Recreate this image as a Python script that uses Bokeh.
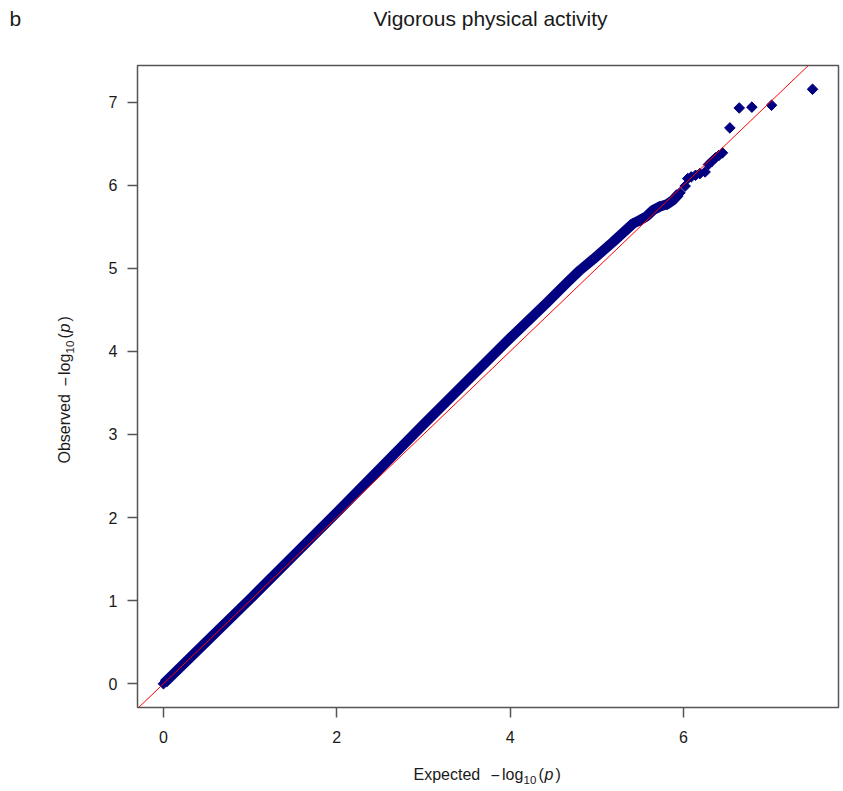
import math
from bokeh.plotting import figure
from bokeh.models import Range1d, FixedTicker, Label, Slope
from bokeh.layouts import column, row
from bokeh.embed import file_html
from bokeh.resources import INLINE

# ---- data (expected vs observed -log10 p) ----
band_expected = [0.0, 0.5, 1.0, 1.5, 2.0, 2.5, 3.0, 3.5, 4.0, 4.42, 4.65, 4.81,
                 4.96, 5.19, 5.42, 5.50, 5.58, 5.65, 5.72, 5.81, 5.88, 5.96]
band_observed = [0.0, 0.51, 1.02, 1.54, 2.06, 2.59, 3.12, 3.64, 4.16, 4.58, 4.82, 4.98,
                 5.11, 5.32, 5.54, 5.58, 5.63, 5.70, 5.74, 5.77, 5.82, 5.91]
tail_expected = [6.02, 6.05, 6.09, 6.14, 6.19, 6.25, 6.29, 6.33, 6.37, 6.41, 6.45,
                 6.536, 6.644, 6.79, 7.017, 7.49]
tail_observed = [5.99, 6.08, 6.10, 6.12, 6.14, 6.16, 6.25, 6.29, 6.33, 6.36, 6.39,
                 6.69, 6.93, 6.94, 6.963, 7.155]
x_ticks = [0, 2, 4, 6]
y_ticks = [0, 1, 2, 3, 4, 5, 6, 7]
title_text = "Vigorous physical activity"
panel_text = "b"
x_label_parts = ["Expected", "\u2212", "log", "10", "(", "p", ")"]
y_label_parts = ["Observed", "\u2212", "log", "10", "(", "p", ")"]

# ---- layout (pixels, page coordinates) ----
W, H = 843, 791
FL, FR, FT, FB = 137, 838, 65, 707     # plot box edges
TOP_H = 63          # title strip
LEFT_W = 90         # y-label strip
MAIN_W = W - LEFT_W
MAIN_H = 692
BOT_H = H - TOP_H - MAIN_H
X0, X1 = -0.2996, 7.7896
Y0, Y1 = -0.2862, 7.4412

FONT = "Liberation Sans"
NAVY = "#000080"
GREY = "#555555"
TXT = "#1a1a1a"
MID = 0.3465        # baseline -> middle offset (fraction of font size)

main = figure(width=MAIN_W, height=MAIN_H, output_backend="svg", toolbar_location=None,
              x_range=Range1d(X0, X1), y_range=Range1d(Y0, Y1),
              min_border_left=FL - LEFT_W, min_border_right=W - FR,
              min_border_top=FT - TOP_H, min_border_bottom=TOP_H + MAIN_H - FB)

main.xgrid.visible = False
main.ygrid.visible = False
main.outline_line_color = GREY
main.outline_line_width = 1.5

main.xaxis.ticker = FixedTicker(ticks=x_ticks)
main.yaxis.ticker = FixedTicker(ticks=y_ticks)
for ax in (main.xaxis[0], main.yaxis[0]):
    ax.axis_line_color = None
    ax.major_tick_out = 10
    ax.major_tick_in = 0
    ax.minor_tick_out = 0
    ax.minor_tick_in = 0
    ax.major_tick_line_color = GREY
    ax.major_tick_line_width = 1.5
    ax.major_label_text_font = FONT
    ax.major_label_text_font_size = "16px"
    ax.major_label_text_color = TXT
main.xaxis[0].major_label_standoff = 13
main.yaxis[0].major_label_standoff = 10

# dense band of points and the individual tail points
main.line(band_expected, band_observed, line_color=NAVY, line_width=10,
          line_cap="butt", line_join="round")
main.scatter(band_expected + tail_expected, band_observed + tail_observed,
             marker="square", angle=math.pi / 4, size=7.5,
             fill_color=NAVY, line_color=NAVY)

# y = x reference line
main.add_layout(Slope(gradient=1, y_intercept=0, line_color="red", line_width=1))


def text_strip(w, h, x_rng, y_rng, **borders):
    f = figure(width=w, height=h, output_backend="svg", toolbar_location=None,
               x_range=Range1d(*x_rng), y_range=Range1d(*y_rng),
               x_axis_location=None, y_axis_location=None, min_border=0, **borders)
    f.grid.visible = False
    f.outline_line_color = None
    return f


def lab(fig, text, x, y_base, size=16, style="normal", align="left", angle=0.0):
    """Place text so its baseline sits at y_base (or x_base if rotated)."""
    if angle:
        xx, yy = x - MID * size, y_base
    else:
        xx, yy = x, y_base - MID * size
    fig.add_layout(Label(x=xx, y=yy, text=text, text_font=FONT,
                         text_font_size=f"{size}px", text_font_style=style,
                         text_color=TXT, text_align=align,
                         text_baseline="middle", angle=angle))


# title strip (page coords: y from 0 down to TOP_H)
top = text_strip(W, TOP_H, (0, W), (TOP_H, 0))
lab(top, title_text, 490, 25, size=21, align="center")
lab(top, panel_text, 9, 25, size=21)

# x axis label strip: Expected  -log10(p)
bot = text_strip(W, BOT_H, (0, W), (H, TOP_H + MAIN_H))
x_starts = [413, 490, 501.5, 523, 538, 544, 555]
for i, t in enumerate(x_label_parts):
    if i == 3:
        lab(bot, t, x_starts[i], 783.5, size=11.5)
    elif i == 5:
        lab(bot, t, x_starts[i], 780, style="italic")
    else:
        lab(bot, t, x_starts[i], 780)

# y axis label strip (rotated); its frame matches the plot box vertically
left = text_strip(LEFT_W, MAIN_H, (0, LEFT_W), (FB, FT),
                  min_border_top=FT - TOP_H, min_border_bottom=TOP_H + MAIN_H - FB)
A = math.pi / 2
y_mid_offsets = [34.7, 81.65, 99.15, 116.4, 127.65, 135.45, 144.65]
for i, t in enumerate(y_label_parts):
    yc = 463 - y_mid_offsets[i]
    if i == 3:
        lab(left, t, 73.5, yc, size=11.5, align="center", angle=A)
    elif i == 5:
        lab(left, t, 70, yc, style="italic", align="center", angle=A)
    else:
        lab(left, t, 70, yc, align="center", angle=A)

page = column(top, row(left, main, spacing=0), bot, spacing=0)

open("out.html", "w").write(file_html(page, INLINE))
